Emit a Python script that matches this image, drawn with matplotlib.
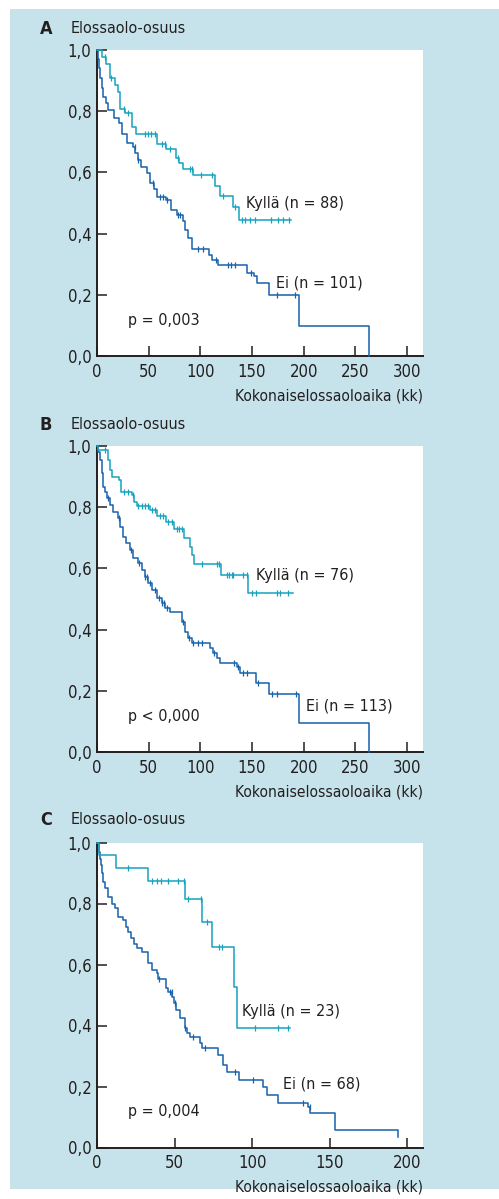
import numpy as np
import matplotlib
matplotlib.use("Agg")
import matplotlib.pyplot as plt
from matplotlib.patches import Rectangle
from matplotlib.ticker import FuncFormatter

plt.rcParams['font.family'] = ['DejaVu Sans']
plt.rcParams['font.stretch'] = 'condensed'

# ---- panel A ----
a_yes_t = [0, 4.5, 9, 12.5, 17, 20.5, 22, 27, 33.5, 37.5, 58, 67, 76.5, 79.5, 83, 93, 114, 119, 132, 137.5]
a_yes_s = [1.0, 0.977, 0.955, 0.909, 0.886, 0.864, 0.807, 0.795, 0.75, 0.727, 0.693, 0.676, 0.648, 0.63,
           0.612, 0.59, 0.556, 0.523, 0.488, 0.444]
a_yes_end = 188
a_yes_cens = [7.7, 14, 26.5, 30, 46.5, 49.5, 52.5, 56, 62.5, 66, 71, 78.5, 90, 91.5, 101, 111, 122, 133.5,
              140, 143, 148, 153, 168, 175, 180, 186]
a_no_t = [0, 0.5, 1.5, 3, 4.5, 6, 8.5, 11, 16, 21, 24, 29, 34.5, 37, 40, 43, 48, 51, 55, 58, 67, 72, 77, 83,
          85, 88, 92, 108, 111, 117.5, 145.5, 152, 154.5, 166, 195.5, 263.5]
a_no_s = [1.0, 0.97, 0.94, 0.907, 0.875, 0.847, 0.826, 0.804, 0.777, 0.76, 0.727, 0.695, 0.684, 0.662, 0.64,
          0.619, 0.597, 0.565, 0.545, 0.521, 0.51, 0.477, 0.461, 0.44, 0.412, 0.385, 0.349, 0.33, 0.314,
          0.297, 0.272, 0.262, 0.237, 0.199, 0.099, 0.0]
a_no_end = 263.5
a_no_cens = [36.8, 40, 54.5, 61, 64, 67.4, 78, 80.5, 98, 103, 115.5, 127, 130, 133.5, 149.5, 174, 191.5]

# ---- panel B ----
b_yes_t = [0, 1, 10.3, 12.6, 14.2, 21.3, 23.2, 33.5, 36.1, 38.4, 51.3, 57.8, 66.8, 74.8, 84.5, 90, 91.6,
           93.5, 120.3, 146.4]
b_yes_s = [1.0, 0.987, 0.954, 0.922, 0.9, 0.889, 0.851, 0.84, 0.818, 0.804, 0.791, 0.771, 0.753, 0.728,
           0.698, 0.671, 0.644, 0.614, 0.577, 0.52]
b_yes_end = 189.3
b_yes_cens = [7.7, 26.4, 30.3, 34.5, 40, 43.2, 46.5, 49.6, 53.5, 56, 61, 64, 69, 72.3, 77, 79.4, 82, 102,
              115.8, 118.4, 125.5, 128, 130.3, 131.9, 141.6, 144.8, 149.7, 153.9, 173.9, 177.1, 185.2]
b_no_t = [0, 1, 2.9, 4.5, 6.1, 7.7, 10, 12.6, 15.8, 20.6, 22.3, 25.5, 27.8, 31.9, 35.1, 40, 43.2, 46.5,
          49.7, 52.9, 57.8, 62.6, 66, 70.6, 82, 85.2, 88.4, 91.6, 109.4, 112.6, 115.8, 119, 135.1, 138.4,
          154, 166.8, 195.5, 263.5]
b_no_s = [1.0, 0.98, 0.954, 0.911, 0.867, 0.85, 0.829, 0.807, 0.785, 0.764, 0.736, 0.704, 0.682, 0.66,
          0.633, 0.617, 0.595, 0.573, 0.551, 0.529, 0.502, 0.486, 0.47, 0.458, 0.426, 0.393, 0.372, 0.355,
          0.339, 0.322, 0.306, 0.292, 0.279, 0.257, 0.224, 0.19, 0.096, 0.0]
b_no_end = 263.5
b_no_cens = [11, 21, 33, 40.5, 46.5, 48, 51, 56, 60, 63, 65, 68, 83, 89, 92.5, 98, 101.3, 113, 133, 136,
             141.6, 144.8, 156, 169, 174, 192.6]

# ---- panel C ----
c_yes_t = [0, 1.3, 12.3, 32.7, 56.7, 67.5, 73.9, 88.3, 90]
c_yes_s = [1.0, 0.959, 0.917, 0.875, 0.815, 0.738, 0.656, 0.525, 0.393]
c_yes_end = 124.4
c_yes_cens = [20.2, 35.7, 38.5, 41, 46, 52, 56.3, 58.9, 67.1, 70.7, 78.4, 80.3, 101.8, 116.4, 123.3]
c_no_t = [0, 1, 2, 2.6, 3.4, 4.1, 5.2, 6.9, 9.5, 11.6, 13.3, 17, 18.5, 20.2, 21.9, 24, 25.6, 28.8, 33.1,
          35.2, 38.5, 39.5, 44.5, 46, 48.1, 49.6, 50.9, 53.5, 56.7, 58.2, 59.9, 66.4, 67.5, 78.2, 81.4,
          83.6, 91.7, 107.2, 109.7, 116.8, 136, 137.5, 153.4, 194.1]
c_no_s = [1.0, 0.97, 0.945, 0.926, 0.899, 0.871, 0.85, 0.822, 0.8, 0.784, 0.757, 0.746, 0.724, 0.708,
          0.686, 0.666, 0.655, 0.64, 0.604, 0.582, 0.571, 0.551, 0.522, 0.51, 0.494, 0.473, 0.451, 0.424,
          0.391, 0.376, 0.361, 0.342, 0.325, 0.303, 0.27, 0.249, 0.221, 0.199, 0.172, 0.147, 0.134, 0.112,
          0.057, 0.033]
c_no_end = 194.1
c_no_cens = [40, 47, 48, 50, 57, 62, 69.6, 88.9, 100.7, 132.5, 137.2]

letters = ["A", "B", "C"]
yes_labels = ["Kyllä (n = 88)", "Kyllä (n = 76)", "Kyllä (n = 23)"]
no_labels = ["Ei (n = 101)", "Ei (n = 113)", "Ei (n = 68)"]
p_labels = ["p = 0,003", "p < 0,000", "p = 0,004"]

BG = "#c6e3eb"
TEAL = "#17a2bf"
DARK = "#1762ab"
TXT = "#231f20"

panels = [
    dict(yes=(a_yes_t, a_yes_s, a_yes_end, a_yes_cens), no=(a_no_t, a_no_s, a_no_end, a_no_cens),
         rect=[97/499, 843/1199, 326/499, 306/1199], xmax=315.5, xticks=np.arange(0, 301, 50),
         yes_pos=(144, 0.497), no_pos=(173, 0.238), p_pos=(29.6, 0.115), title_y=1.069),
    dict(yes=(b_yes_t, b_yes_s, b_yes_end, b_yes_cens), no=(b_no_t, b_no_s, b_no_end, b_no_cens),
         rect=[97/499, 447/1199, 326/499, 306/1199], xmax=315.5, xticks=np.arange(0, 301, 50),
         yes_pos=(154, 0.578), no_pos=(202, 0.150), p_pos=(29.6, 0.115), title_y=1.069),
    dict(yes=(c_yes_t, c_yes_s, c_yes_end, c_yes_cens), no=(c_no_t, c_no_s, c_no_end, c_no_cens),
         rect=[97/499, 51.5/1199, 326/499, 305/1199], xmax=210, xticks=np.arange(0, 201, 50),
         yes_pos=(93.6, 0.445), no_pos=(119.6, 0.208), p_pos=(19.8, 0.117), title_y=1.074),
]


def km(ax, t, s, end, cens, color):
    t = np.asarray(t, float)
    s = np.asarray(s, float)
    tt = np.append(t, end) if end > t[-1] else t
    ss = np.append(s, s[-1]) if end > t[-1] else s
    ax.step(tt, ss, where='post', color=color, lw=1.1, clip_on=False, zorder=3)
    c = np.asarray(cens, float)
    cs = s[np.searchsorted(t, c, side='right') - 1]
    ax.plot(c, cs, ls='none', marker='|', ms=5, mew=0.9, color=color, clip_on=False, zorder=4)


fig = plt.figure(figsize=(4.99, 11.99), dpi=100)
fig.patches.append(Rectangle((10/499, 10/1199), 489/499, 1180/1199, transform=fig.transFigure,
                             facecolor=BG, edgecolor='none', zorder=-1))

fmt = FuncFormatter(lambda v, pos: f"{v:.1f}".replace(".", ","))

for i, p in enumerate(panels):
    ax = fig.add_axes(p["rect"])
    ax.set_facecolor("white")
    km(ax, *p["no"], DARK)
    km(ax, *p["yes"], TEAL)
    ax.set_xlim(0, p["xmax"])
    ax.set_ylim(0, 1.0)
    ax.set_xticks(p["xticks"])
    ax.set_yticks(np.arange(0, 1.01, 0.2))
    ax.yaxis.set_major_formatter(fmt)
    for side in ["top", "right"]:
        ax.spines[side].set_visible(False)
    for side in ["left", "bottom"]:
        ax.spines[side].set_linewidth(1.4)
        ax.spines[side].set_color(TXT)
    ax.tick_params(direction='in', length=7.5, width=1.1, color=TXT, labelcolor=TXT, labelsize=12)
    ax.tick_params(axis='y', pad=4)
    ax.tick_params(axis='x', pad=5)
    ax.text(*p["yes_pos"], yes_labels[i], fontsize=11.5, color=TXT, va='center', ha='left')
    ax.text(*p["no_pos"], no_labels[i], fontsize=11.5, color=TXT, va='center', ha='left')
    ax.text(*p["p_pos"], p_labels[i], fontsize=11.5, color=TXT, va='center', ha='left')
    ax.text(-0.156, p["title_y"], letters[i], transform=ax.transAxes, fontsize=13, fontweight='bold',
            color=TXT, va='center', ha='center')
    ax.text(-0.080, p["title_y"], "Elossaolo-osuus", transform=ax.transAxes, fontsize=11.5,
            color=TXT, va='center', ha='left')
    ax.text(1.0, -0.13, "Kokonaiselossaoloaika (kk)", transform=ax.transAxes, fontsize=11.2,
            color=TXT, va='center', ha='right')

fig.savefig("out.png", dpi=100)
